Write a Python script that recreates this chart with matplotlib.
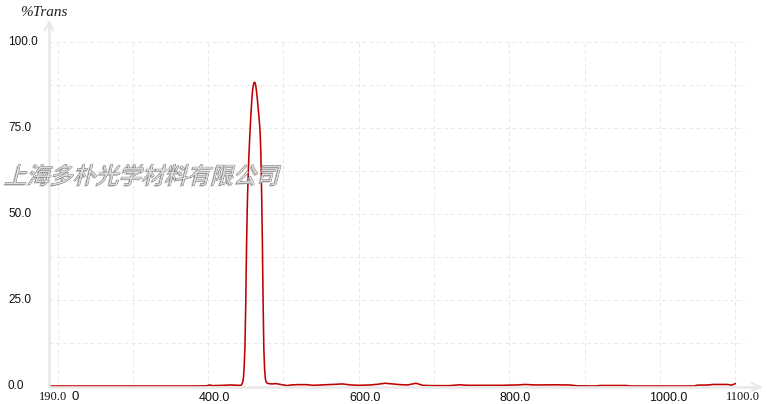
import matplotlib
matplotlib.use("Agg")
import matplotlib.pyplot as plt
from matplotlib.lines import Line2D
from matplotlib.transforms import Affine2D
import matplotlib.patheffects as pe

# ---------------- data ----------------
wavelength = [190, 220, 260, 300, 340, 380, 398, 402, 406, 420, 430, 440, 443,
              444, 445, 446, 447, 448, 449, 450, 451, 452, 453, 454, 455, 456, 457,
              458, 459, 460, 461, 462, 463, 464, 465, 466, 467, 468, 469, 470, 471,
              472, 473, 474, 475, 476, 477, 478, 480, 485, 490, 495, 500, 505, 510,
              520, 530, 540, 550, 560, 570, 578, 590, 600, 615, 625, 635, 645, 655,
              665, 676, 685, 700, 720, 734, 745, 760, 790, 810, 821, 835, 860, 880,
              890, 915, 920, 955, 960, 1000, 1045, 1050, 1065, 1070, 1090, 1095,
              1098, 1100]
transmission = [0.0, 0.0, 0.0, 0.0, 0.0, 0.0, 0.05, 0.3, 0.1, 0.2, 0.3, 0.2, 0.2,
                0.3, 0.6, 1.2, 2.5, 6.0, 12.0, 24.0, 40.0, 52.0, 60.0, 66.0, 71.0,
                75.5, 79.5, 83.0, 85.8, 87.4, 88.2, 88.3, 87.6, 86.2, 84.2, 82.0,
                79.5, 77.0, 74.0, 68.0, 57.0, 43.0, 25.0, 11.0, 5.0, 2.2, 1.2, 0.9,
                0.7, 0.6, 0.7, 0.5, 0.3, 0.1, 0.3, 0.4, 0.4, 0.2, 0.3, 0.4, 0.5, 0.6,
                0.3, 0.2, 0.3, 0.5, 0.8, 0.6, 0.4, 0.3, 0.8, 0.2, 0.1, 0.1, 0.35,
                0.2, 0.2, 0.2, 0.3, 0.45, 0.3, 0.35, 0.3, 0.05, 0.0, 0.15, 0.15, 0.0,
                0.0, 0.0, 0.25, 0.3, 0.45, 0.45, 0.25, 0.5, 0.7]

x_tick_values = [400, 600, 800, 1000]
x_tick_labels = ["400.0", "600.0", "800.0", "1000.0"]
y_tick_values = [0, 25, 50, 75, 100]
y_tick_labels = ["0.0", "25.0", "50.0", "75.0", "100.0"]
y_axis_title = "%Trans"
watermark = "上海多朴光学材料有限公司"

# ---------------- figure ----------------
W, H = 767, 404
fig = plt.figure(figsize=(W / 100, H / 100), dpi=100)
fig.patch.set_facecolor("white")

def fx(px):
    return px / W

def fy(py):
    return 1 - py / H

ax_l, ax_r, ax_t, ax_b = 49, 745, 42, 387
ax = fig.add_axes([fx(ax_l), fy(ax_b), (ax_r - ax_l) / W, (ax_b - ax_t) / H])
ax.set_xlim(188.7, 1113)
ax.set_ylim(-0.29, 100)
for s in ax.spines.values():
    s.set_visible(False)
ax.set_xticks([])
ax.set_yticks([])
ax.patch.set_alpha(0)

grid_col = "#e8e8e8"
for yv in [12.5 * i for i in range(1, 9)]:
    ax.axhline(yv, color=grid_col, lw=0.7, ls=(0, (4, 3)), zorder=1)
for xv in range(200, 1101, 100):
    ax.axvline(xv, color=grid_col, lw=0.7, ls=(0, (4, 3)), zorder=1)

ax.plot(wavelength, transmission, color="#c00000", lw=1.15, zorder=3,
        clip_on=False)

# axis lines with arrows (figure pixel coords)
axis_col = "#e8e8e8"
def fline(xs, ys, lw=1.8):
    fig.add_artist(Line2D([fx(v) for v in xs], [fy(v) for v in ys],
                          color=axis_col, lw=lw, transform=fig.transFigure,
                          zorder=0.5))
fline([49, 49], [387, 22])
fline([45, 49, 53], [30, 22, 30], lw=1.5)
fline([49, 760], [387, 387])
fline([752, 760, 752], [383, 387, 391], lw=1.5)

# tick labels
sans = "Liberation Sans"
serif = "Liberation Serif"
for v, lab in zip(y_tick_values, y_tick_labels):
    ypix = ax.transData.transform((0, v))[1]
    fig.text(fx(8), ypix / H, lab, ha="left", va="center", fontsize=8.5,
             family=sans, color="#111111")

for v, lab in zip(x_tick_values, x_tick_labels):
    xpix = ax.transData.transform((v, 0))[0]
    fig.text((xpix + 6 + (2 if len(lab) > 5 else 0)) / W, fy(398), lab,
             ha="center", va="center", fontsize=9, family=sans, color="#111111")

fig.text(fx(53), fy(397), "190.0", ha="center", va="center", fontsize=9,
         family=serif, color="#111111")
fig.text(fx(75), fy(397), "0", ha="center", va="center", fontsize=9.5,
         family=sans, color="#111111")
fig.text(fx(743), fy(397), "1100.0", ha="center", va="center", fontsize=9,
         family=serif, color="#111111")

fig.text(fx(20), fy(12), y_axis_title, ha="left", va="center", fontsize=11,
         family=serif, style="italic", color="#222222")

# watermark, slanted via a path effect (text stays real text)
class Skewed(pe.AbstractPathEffect):
    def __init__(self, inner, shear=14):
        super().__init__()
        self.inner = inner
        self.shear = shear

    def draw_path(self, renderer, gc, tpath, affine, rgbFace=None):
        m = affine.get_matrix()
        px, py = m[0, 2], m[1, 2]
        new = affine + Affine2D().translate(-px, -py).skew_deg(self.shear, 0).translate(px, py)
        for eff in self.inner:
            eff.draw_path(renderer, gc, tpath, new, rgbFace)

fig.text(fx(4), fy(177), watermark, ha="left", va="center", fontsize=16.5,
         family=["Noto Sans CJK SC", "DejaVu Sans"], color="#dcdcdc",
         path_effects=[Skewed([
             pe.SimplePatchShadow(offset=(-1.2, -1.0), shadow_rgbFace="#b0b0b0", alpha=0.8),
             pe.Stroke(linewidth=0.5, foreground="#555555"),
             pe.Normal()])], zorder=5)

fig.savefig("out.png", dpi=100)
